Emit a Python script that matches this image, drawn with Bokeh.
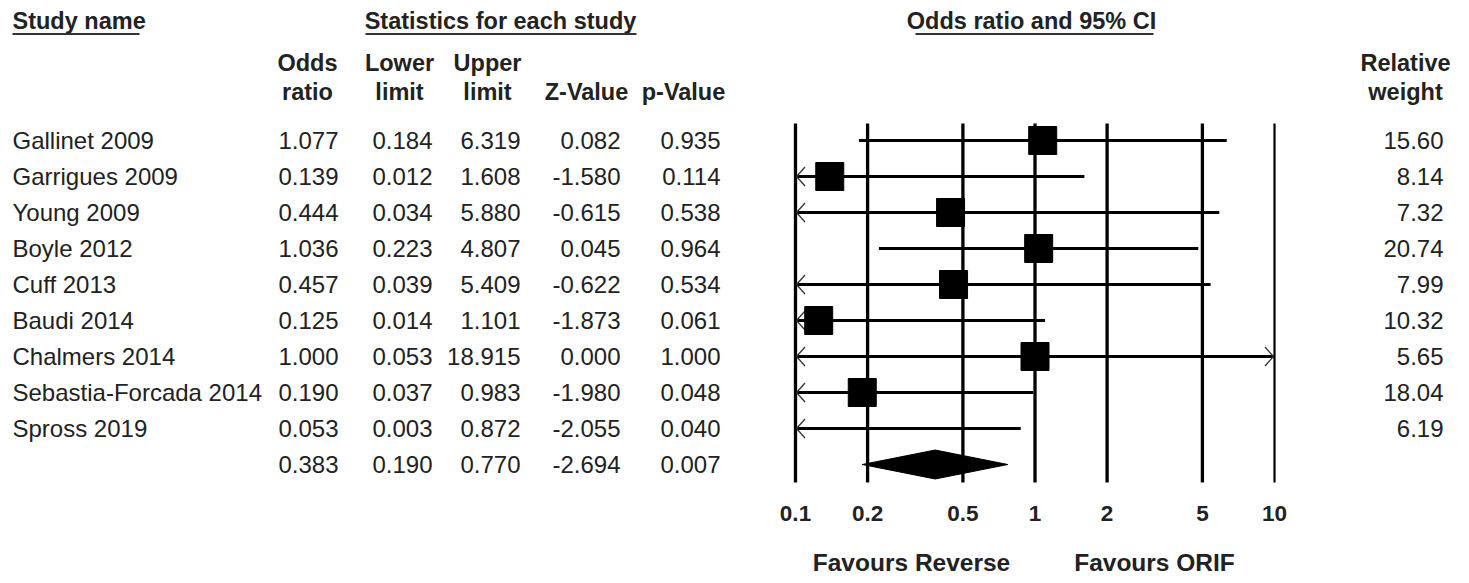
from bokeh.plotting import figure
from bokeh.models import Range1d, LogScale
from bokeh.core.properties import value
from bokeh.embed import file_html
from bokeh.resources import INLINE

# ---- data -------------------------------------------------------------
studies = ["Gallinet 2009", "Garrigues 2009", "Young 2009", "Boyle 2012",
           "Cuff 2013", "Baudi 2014", "Chalmers 2014",
           "Sebastia-Forcada 2014", "Spross 2019"]
odds_ratio = [1.077, 0.139, 0.444, 1.036, 0.457, 0.125, 1.000, 0.190, 0.053]
lower_limit = [0.184, 0.012, 0.034, 0.223, 0.039, 0.014, 0.053, 0.037, 0.003]
upper_limit = [6.319, 1.608, 5.880, 4.807, 5.409, 1.101, 18.915, 0.983, 0.872]
z_value = [0.082, -1.580, -0.615, 0.045, -0.622, -1.873, 0.000, -1.980, -2.055]
p_value = [0.935, 0.114, 0.538, 0.964, 0.534, 0.061, 1.000, 0.048, 0.040]
relative_weight = [15.60, 8.14, 7.32, 20.74, 7.99, 10.32, 5.65, 18.04, 6.19]

pooled_or = 0.383
pooled_lower = 0.190
pooled_upper = 0.770
pooled_z = -2.694
pooled_p = 0.007

tick_values = [0.1, 0.2, 0.5, 1, 2, 5, 10]
tick_labels = ["0.1", "0.2", "0.5", "1", "2", "5", "10"]

# ---- layout -----------------------------------------------------------
W, H = 1469, 583
FIRST_ROW_PX, ROW_PX = 140, 36          # row 0 centre, row pitch (px)
AXIS_MIN, AXIS_MAX = 0.1, 10.0          # odds-ratio axis limits
AXIS_LEFT_PX, PX_PER_DECADE = 795, 239.5

FONT = value("Liberation Sans")
TXT = "#222222"


def row(px):
    """convert a vertical pixel position into row units"""
    return (px - FIRST_ROW_PX) / ROW_PX


p = figure(width=W, height=H, output_backend="svg", toolbar_location=None,
           x_range=Range1d(0, W), y_range=Range1d(row(H), row(0)),
           min_border=0, outline_line_color=None,
           background_fill_color="white", border_fill_color="white")
p.axis.visible = False
p.grid.visible = False

# log-scaled odds-ratio axis sharing the same canvas
lo = AXIS_MIN / 10 ** (AXIS_LEFT_PX / PX_PER_DECADE)
hi = AXIS_MIN * 10 ** ((W - AXIS_LEFT_PX) / PX_PER_DECADE)
p.extra_x_ranges = {"or": Range1d(lo, hi)}
p.extra_x_scales = {"or": LogScale()}

n = len(studies)
rows = list(range(n))
pooled_row = n

# ---- headers ----------------------------------------------------------
hdr = dict(text_font=FONT, text_font_style="bold", text_font_size="23.5px",
           text_color=TXT, text_baseline="middle")
p.text(x=[12], y=[row(20)], text=["Study name"], text_align="left", **hdr)
p.text(x=[500, 1031], y=[row(20)] * 2,
       text=["Statistics for each study", "Odds ratio and 95% CI"],
       text_align="center", **hdr)
p.segment(x0=[12, 365, 915], y0=[row(33.5)] * 3,
          x1=[139, 636, 1153], y1=[row(33.5)] * 3,
          line_color="#333333", line_width=2)

col_centres = [307, 399, 487, 586, 683, 1405]
top_line = ["Odds", "Lower", "Upper", "", "", "Relative"]
bottom_line = ["ratio", "limit", "limit", "Z-Value", "p-Value", "weight"]
p.text(x=col_centres, y=[row(62.5)] * 6, text=top_line,
       text_align="center", **hdr)
p.text(x=col_centres, y=[row(91)] * 6, text=bottom_line,
       text_align="center", **hdr)

# ---- table ------------------------------------------------------------
cell = dict(text_font=FONT, text_font_size="24px", text_color=TXT,
            text_baseline="middle")
p.text(x=[12] * n, y=rows, text=studies, text_align="left", **cell)

fmt3 = lambda v: f"{v:.3f}"
all_rows = rows + [pooled_row]
columns = [
    (338, [fmt3(v) for v in odds_ratio + [pooled_or]]),
    (432, [fmt3(v) for v in lower_limit + [pooled_lower]]),
    (520, [fmt3(v) for v in upper_limit + [pooled_upper]]),
    (620, [fmt3(v) for v in z_value + [pooled_z]]),
    (720, [fmt3(v) for v in p_value + [pooled_p]]),
]
for right_edge, texts in columns:
    p.text(x=[right_edge] * len(texts), y=all_rows, text=texts,
           text_align="right", **cell)
p.text(x=[1443] * n, y=rows, text=[f"{w:.2f}" for w in relative_weight],
       text_align="right", **cell)

# ---- forest plot --------------------------------------------------------
line_top, line_bottom = row(123), row(482)
p.segment(x0=tick_values[:-1], y0=[line_top] * 6,
          x1=tick_values[:-1], y1=[line_bottom] * 6,
          line_color="black", line_width=3.3, x_range_name="or")
p.segment(x0=tick_values[-1:], y0=[line_top], x1=tick_values[-1:],
          y1=[line_bottom], line_color="black", line_width=2.2,
          x_range_name="or")

ci_lo = [max(v, AXIS_MIN) for v in lower_limit]
ci_hi = [min(v, AXIS_MAX) for v in upper_limit]
p.segment(x0=ci_lo, y0=rows, x1=ci_hi, y1=rows, line_color="black",
          line_width=3, x_range_name="or")

# open chevrons where an interval runs past the axis limits
arm_dx = 10 ** (9.5 / PX_PER_DECADE)
arm_dy = 9.5 / ROW_PX
left_rows = [r for r, v in zip(rows, lower_limit) if v < AXIS_MIN]
right_rows = [r for r, v in zip(rows, upper_limit) if v > AXIS_MAX]
for rr, tip, arm in ((left_rows, AXIS_MIN * 1.01, AXIS_MIN * arm_dx),
                     (right_rows, AXIS_MAX / 1.01, AXIS_MAX / arm_dx)):
    k = len(rr)
    p.segment(x0=[tip] * 2 * k, y0=rr + rr,
              x1=[arm] * 2 * k,
              y1=[r - arm_dy for r in rr] + [r + arm_dy for r in rr],
              line_color="#333333", line_width=1.3, x_range_name="or")

shown = [(o, r) for o, r in zip(odds_ratio, rows) if AXIS_MIN <= o <= AXIS_MAX]
p.scatter(x=[o for o, _ in shown], y=[r for _, r in shown], marker="square",
          size=28, fill_color="black", line_color="black", x_range_name="or")

half_h = 14.5 / ROW_PX
p.patch(x=[pooled_lower, pooled_or, pooled_upper, pooled_or],
        y=[pooled_row, pooled_row - half_h, pooled_row, pooled_row + half_h],
        fill_color="black", line_color="black", line_width=1,
        x_range_name="or")

# axis labels
p.text(x=tick_values, y=[row(512.5)] * len(tick_values), text=tick_labels,
       text_font=FONT, text_font_style="bold", text_font_size="22.5px",
       text_color=TXT, text_align="center", text_baseline="middle",
       x_range_name="or")
p.text(x=[911, 1154], y=[row(562)] * 2,
       text=["Favours Reverse", "Favours ORIF"],
       text_font=FONT, text_font_style="bold", text_font_size="24.5px",
       text_color=TXT, text_align="center", text_baseline="middle")

open("out.html", "w").write(file_html(p, INLINE))
